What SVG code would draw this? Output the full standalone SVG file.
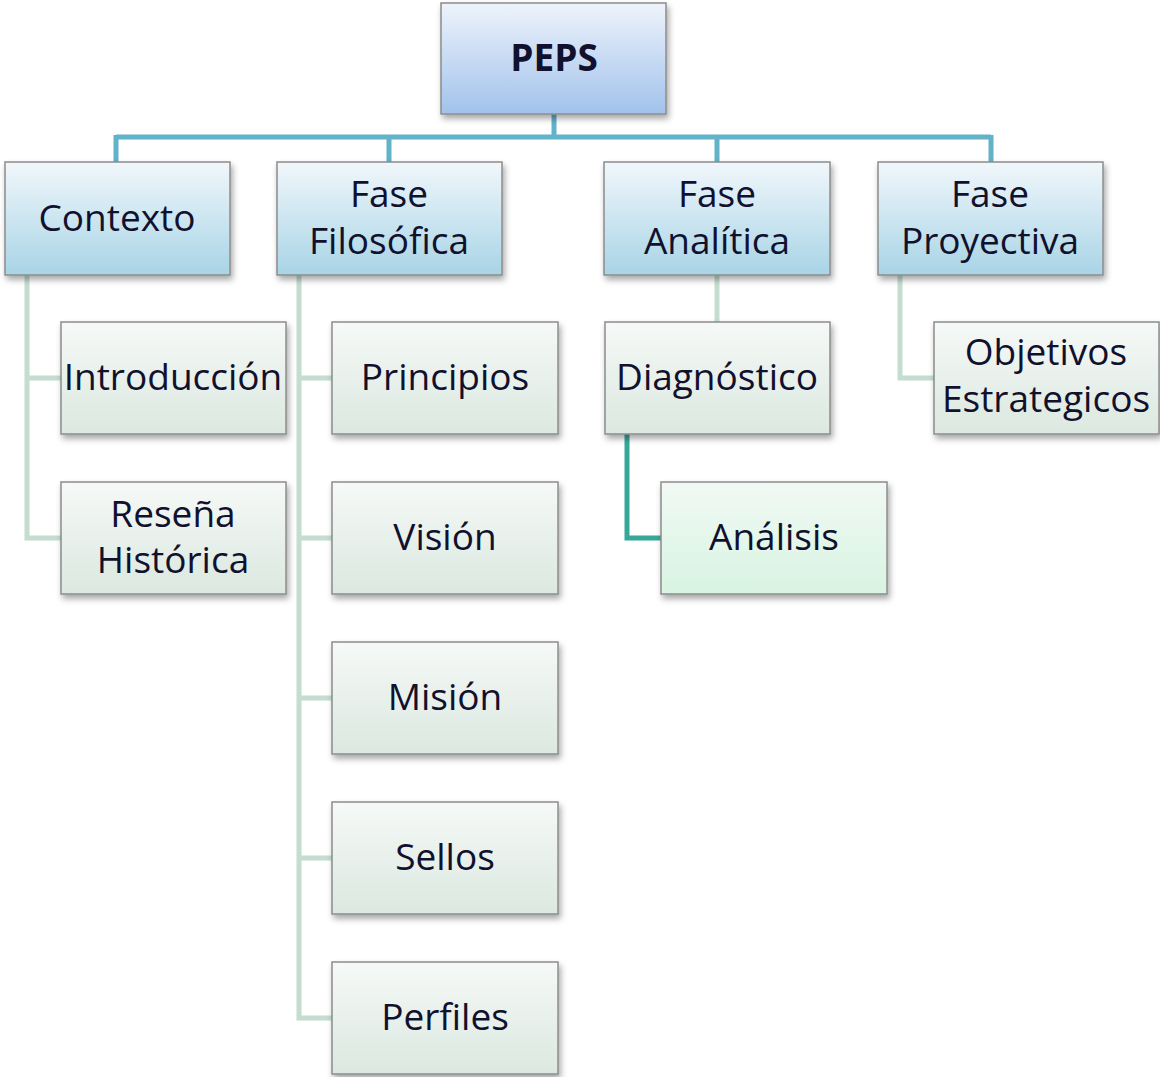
<svg xmlns="http://www.w3.org/2000/svg" width="1160" height="1077" viewBox="0 0 1160 1077">
<defs>
<linearGradient id="gTop" x1="0" y1="0" x2="0" y2="1"><stop offset="0" stop-color="#eef3fb"/><stop offset="1" stop-color="#a2c2ec"/></linearGradient>
<linearGradient id="gL2" x1="0" y1="0" x2="0" y2="1"><stop offset="0" stop-color="#f1f7fb"/><stop offset="1" stop-color="#a8d4e6"/></linearGradient>
<linearGradient id="gL3" x1="0" y1="0" x2="0" y2="1"><stop offset="0" stop-color="#f6f9f7"/><stop offset="1" stop-color="#dbe8e0"/></linearGradient>
<linearGradient id="gL4" x1="0" y1="0" x2="0" y2="1"><stop offset="0" stop-color="#f1f9f4"/><stop offset="1" stop-color="#d8f4e2"/></linearGradient>
<filter id="sh" x="-10%" y="-10%" width="125%" height="130%"><feDropShadow dx="2" dy="4" stdDeviation="3" flood-color="#000" flood-opacity="0.35"/></filter>
</defs>
<style>
.box{stroke:#8c8c8c;stroke-width:1.5;filter:url(#sh)}
.t{font-family:"Open Sans","Noto Sans",sans-serif;font-size:37px;fill:#11112e;text-anchor:middle}
.b{font-weight:bold;font-size:37px}
.c1{fill:none;stroke:#62b2c9;stroke-width:5}
.c2{fill:none;stroke:#c4ddd0;stroke-width:5}
.c3{fill:none;stroke:#36a899;stroke-width:5}
</style>
<g id="connectors">
<path class="c1" d="M554 114V137M116 137H991M116 135V162M389 135V162M717 135V162M991 135V162"/>
<path class="c2" d="M27 275V538H61M27 378H61"/>
<path class="c2" d="M299 275V1018H332M299 378H332M299 538H332M299 698H332M299 858H332"/>
<path class="c2" d="M717 275V322"/>
<path class="c3" d="M627 434V538H661"/>
<path class="c2" d="M900 275V378H934"/>
</g>
<g id="peps"><rect class="box" x="441" y="3" width="225" height="111" fill="url(#gTop)"/><text class="t b" x="554" y="71">PEPS</text></g>
<g id="contexto"><rect class="box" x="5" y="162" width="225" height="113" fill="url(#gL2)"/><text class="t" x="117" y="231">Contexto</text></g>
<g id="fase-filosofica"><rect class="box" x="277" y="162" width="225" height="113" fill="url(#gL2)"/><text class="t" x="389" y="207">Fase</text><text class="t" x="389" y="254">Filosófica</text></g>
<g id="fase-analitica"><rect class="box" x="604" y="162" width="226" height="113" fill="url(#gL2)"/><text class="t" x="717" y="207">Fase</text><text class="t" x="717" y="254">Analítica</text></g>
<g id="fase-proyectiva"><rect class="box" x="878" y="162" width="225" height="113" fill="url(#gL2)"/><text class="t" x="990" y="207">Fase</text><text class="t" x="990" y="254">Proyectiva</text></g>
<g id="introduccion"><rect class="box" x="61" y="322" width="225" height="112" fill="url(#gL3)"/><text class="t" x="173" y="390">Introducción</text></g>
<g id="resena"><rect class="box" x="61" y="482" width="225" height="112" fill="url(#gL3)"/><text class="t" x="173" y="527">Reseña</text><text class="t" x="173" y="573">Histórica</text></g>
<g id="principios"><rect class="box" x="332" y="322" width="226" height="112" fill="url(#gL3)"/><text class="t" x="445" y="390">Principios</text></g>
<g id="vision"><rect class="box" x="332" y="482" width="226" height="112" fill="url(#gL3)"/><text class="t" x="445" y="550">Visión</text></g>
<g id="mision"><rect class="box" x="332" y="642" width="226" height="112" fill="url(#gL3)"/><text class="t" x="445" y="710">Misión</text></g>
<g id="sellos"><rect class="box" x="332" y="802" width="226" height="112" fill="url(#gL3)"/><text class="t" x="445" y="870">Sellos</text></g>
<g id="perfiles"><rect class="box" x="332" y="962" width="226" height="112" fill="url(#gL3)"/><text class="t" x="445" y="1030">Perfiles</text></g>
<g id="diagnostico"><rect class="box" x="605" y="322" width="225" height="112" fill="url(#gL3)"/><text class="t" x="717" y="390">Diagnóstico</text></g>
<g id="analisis"><rect class="box" x="661" y="482" width="226" height="112" fill="url(#gL4)"/><text class="t" x="774" y="550">Análisis</text></g>
<g id="objetivos"><rect class="box" x="934" y="322" width="225" height="112" fill="url(#gL3)"/><text class="t" x="1046" y="365">Objetivos</text><text class="t" x="1046" y="412">Estrategicos</text></g>
</svg>
